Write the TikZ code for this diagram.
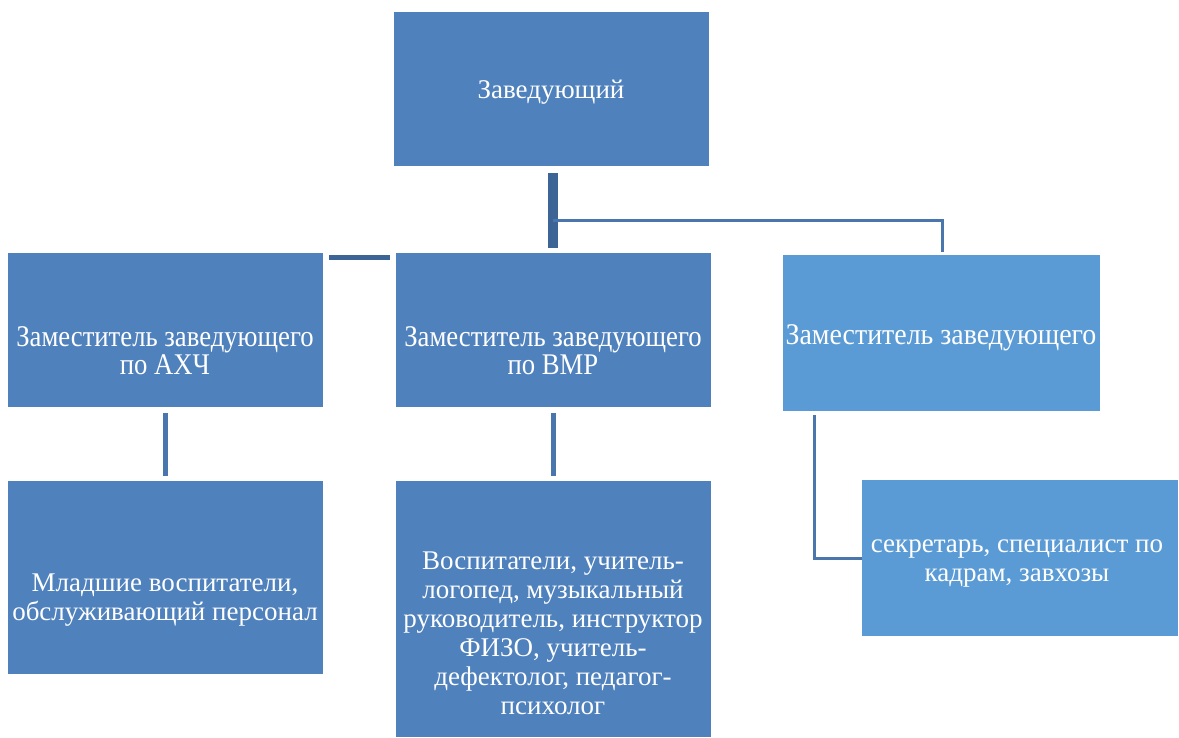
\documentclass[tikz,border=0pt]{standalone}
\usepackage{fontspec}
\setmainfont{Liberation Serif}
\newfontfamily\condfont[FakeStretch=0.89]{Liberation Serif}
\newfontfamily\condfontb[FakeStretch=0.93]{Liberation Serif}
\usetikzlibrary{calc}
\definecolor{boxA}{HTML}{4F81BD}
\definecolor{boxB}{HTML}{5B9BD5}
\definecolor{lineA}{HTML}{3C6595}
\definecolor{lineB}{HTML}{4A76AE}
\tikzset{
  box/.style={fill=boxA, draw=none, anchor=north west, inner sep=0pt},
  boxr/.style={box, fill=boxB},
  txt/.style={text=white, align=center, font=\fontsize{27}{29}\selectfont, inner sep=0pt},
  ctxt/.style={txt, font=\condfont\fontsize{30}{28}\selectfont},
  ctxtb/.style={txt, font=\condfontb\fontsize{30}{28}\selectfont},
  thickline/.style={draw=lineA, line width=10pt},
  midline/.style={draw=lineA, line width=5pt},
  vline/.style={draw=lineB, line width=5pt},
  thinline/.style={draw=lineB, line width=3pt},
}
\begin{document}
\begin{tikzpicture}[x=1pt,y=-1pt]
\useasboundingbox (0,0) rectangle (1179,737);
% boxes
\node[box, minimum width=315pt, minimum height=154pt] (top) at (394,12) {};
\node[box, minimum width=315pt, minimum height=154pt] (left) at (8,253) {};
\node[box, minimum width=315pt, minimum height=154pt] (mid) at (396,253) {};
\node[boxr, minimum width=317pt, minimum height=156pt] (right) at (783,255) {};
\node[box, minimum width=315pt, minimum height=193pt] (bleft) at (8,481) {};
\node[box, minimum width=315pt, minimum height=256pt] (bmid) at (396,481) {};
\node[boxr, minimum width=316pt, minimum height=156pt] (bright) at (862,480) {};
% texts
\node[txt] (ttop) at (551,92) {Заведующий};
\node[ctxt] (tleft) at (165,351) {Заместитель заведующего\\по АХЧ};
\node[ctxt] (tmid) at (553,351) {Заместитель заведующего\\по ВМР};
\node[ctxtb] (tright) at (941,338) {Заместитель заведующего};
\node[txt] (tbleft) at (165,600) {Младшие воспитатели,\\обслуживающий персонал};
\node[txt] (tbmid) at (553,633) {Воспитатели, учитель-\\логопед, музыкальный\\руководитель, инструктор\\ФИЗО, учитель-\\дефектолог, педагог-\\психолог};
\node[txt] (tbright) at (1017,564) {секретарь, специалист по\\кадрам, завхозы};
% connectors
\coordinate (c1) at (553,173);
\coordinate (c2) at (553,248);
\coordinate (c3) at (553,220);
\coordinate (c4) at (942,220);
\coordinate (c5) at (942,252);
\coordinate (c6) at (329,257.5);
\coordinate (c7) at (390,257.5);
\coordinate (c8) at (165.5,413);
\coordinate (c9) at (165.5,476);
\coordinate (c10) at (553.5,413);
\coordinate (c11) at (553.5,476);
\coordinate (c12) at (814,415);
\coordinate (c13) at (814,558);
\coordinate (c14) at (862,558);
\draw[thickline] (c1) -- (c2);
\draw[thinline] (c3) -- (c4) -- (c5);
\draw[midline] (c6) -- (c7);
\draw[vline] (c8) -- (c9);
\draw[vline] (c10) -- (c11);
\draw[thinline] (c12) -- (c13) -- (c14);
\end{tikzpicture}
\end{document}
